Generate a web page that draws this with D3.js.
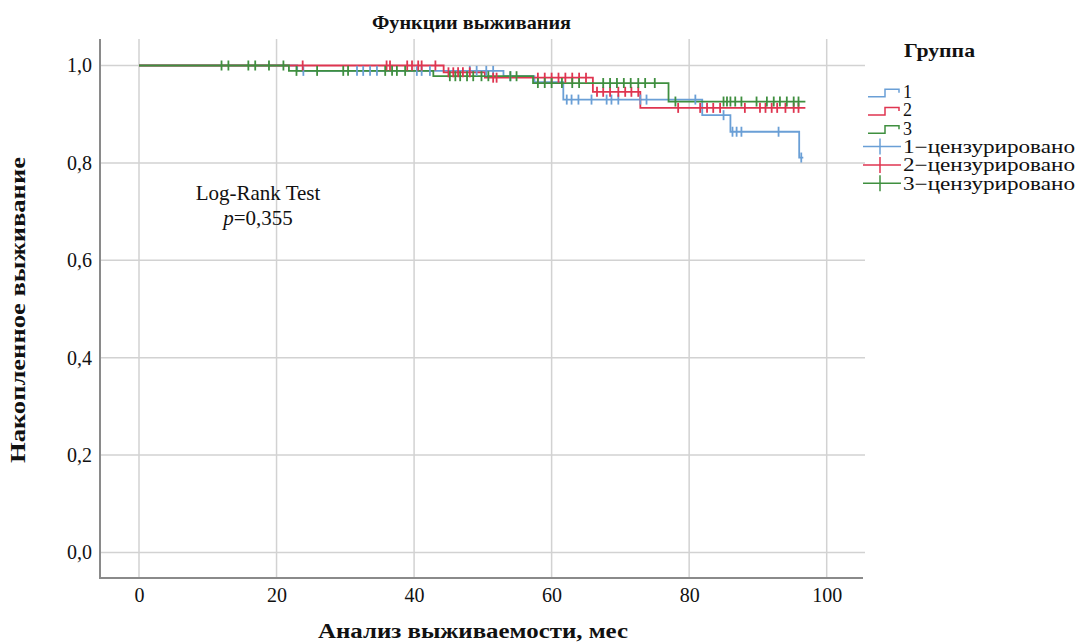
<!DOCTYPE html>
<html><head><meta charset="utf-8">
<script src="https://cdn.jsdelivr.net/npm/d3@7"></script>
<style>body{margin:0;background:#fff}svg{display:block}text{font-family:"Liberation Serif","Times New Roman",serif;fill:#111}</style>
</head><body><svg id="c" width="1078" height="644"></svg>
<script>
// ---- data ----
const groups = ["1","2","3"];
const xTicks = [0,20,40,60,80,100];
const yTicks = [0,0.2,0.4,0.6,0.8,1.0];
// step changes: [time, survival after time]
const steps1 = [[0,1.0],[23.0,0.989],[53.0,0.978],[57.5,0.966],[61.7,0.930],[81.9,0.898],[86.0,0.864],[96.0,0.811]];
const steps2 = [[0,1.0],[44.3,0.986],[50.3,0.975],[66.0,0.946],[72.9,0.913]];
const steps3 = [[0,1.0],[21.8,0.989],[42.8,0.978],[57.3,0.964],[77.0,0.926]];
const end1 = 96.6, end2 = 96.9, end3 = 96.9;
const cens1 = [23.9,31.7,32.6,33.6,34.6,40.4,41.1,42.3,48.1,49.1,50.5,51.5,54.0,62.2,62.9,63.9,65.8,68.0,68.7,69.7,72.9,73.8,80.9,85.0,86.3,86.9,87.6,93.0,96.3];
const cens2 = [23.8,36.0,36.5,39.0,39.7,40.6,41.1,43.1,45.0,45.7,46.4,47.1,48.1,51.5,52.0,58.0,59.0,60.0,61.0,62.0,63.0,64.0,65.0,66.6,67.5,68.5,69.7,70.7,71.6,72.6,78.4,81.6,82.6,83.5,84.5,88.1,90.3,91.1,92.0,92.8,94.0,95.2,95.9];
const cens3 = [12.0,13.0,15.9,16.9,18.9,21.0,22.9,25.9,29.7,30.4,35.8,36.8,37.5,38.7,45.2,46.0,46.7,47.7,48.6,49.8,50.8,54.0,54.9,58.0,59.0,60.0,61.5,63.0,64.0,67.5,68.5,69.5,70.5,71.5,72.6,73.6,75.0,78.0,85.0,85.5,86.0,86.7,87.6,89.8,91.3,92.3,93.2,94.2,95.2,95.9];
const legendLabels = ["1","2","3","1\u2212цензурировано","2\u2212цензурировано","3\u2212цензурировано"];
const colors = ["#6a9fd6","#df3550","#3f8f3f"];

const svg = d3.select("#c");
const L=100,R=865,T=39,B=578;
const x = d3.scaleLinear().domain([0,100]).range([139,826.7]);
const y = d3.scaleLinear().domain([0,1]).range([552.5,65.5]);

// grid
svg.append("g").selectAll("line").data(yTicks).join("line")
  .attr("x1",L).attr("x2",R).attr("y1",d=>y(d)).attr("y2",d=>y(d))
  .attr("stroke","#d2d2d2").attr("stroke-width",1.5);
svg.append("g").selectAll("line").data(xTicks).join("line")
  .attr("x1",d=>x(d)).attr("x2",d=>x(d)).attr("y1",T).attr("y2",B)
  .attr("stroke","#d2d2d2").attr("stroke-width",1.5);
// axes lines
svg.append("line").attr("x1",L).attr("x2",L).attr("y1",T).attr("y2",B).attr("stroke","#8a8a8a").attr("stroke-width",2);
svg.append("line").attr("x1",L-1).attr("x2",R-2).attr("y1",B).attr("y2",B).attr("stroke","#8a8a8a").attr("stroke-width",2);

// tick labels via d3 axes (domain/ticks hidden)
const fmt = d=>d3.format(".1f")(d).replace(".",",");
const ya = svg.append("g").attr("transform",`translate(${L},0)`)
  .call(d3.axisLeft(y).tickValues(yTicks).tickFormat(fmt).tickSize(0).tickPadding(8));
const xa = svg.append("g").attr("transform",`translate(0,${B})`)
  .call(d3.axisBottom(x).tickValues(xTicks).tickFormat(d3.format("d")).tickSize(0).tickPadding(10));
[ya,xa].forEach(a=>{a.select(".domain").remove();
  a.selectAll("text").attr("font-family","Liberation Serif").attr("font-size",20).attr("fill","#111");});

// curves
function stepPath(steps,end){
  let p = `M${x(steps[0][0])},${y(steps[0][1])}`;
  for(let i=1;i<steps.length;i++){
    p += `H${x(steps[i][0])}V${y(steps[i][1])}`;
  }
  p += `H${x(end)}`;
  return p;
}
function survAt(steps,t){let s=steps[0][1];for(const st of steps){if(st[0]<=t)s=st[1];}return s;}
const all = [[steps1,end1,cens1],[steps2,end2,cens2],[steps3,end3,cens3]];
all.forEach(([st,en,ce],i)=>{
  svg.append("path").attr("d",stepPath(st,en)).attr("fill","none")
    .attr("stroke",colors[i]).attr("stroke-width",1.8);
});
all.forEach(([st,en,ce],i)=>{
  const g = svg.append("g").attr("stroke",colors[i]).attr("stroke-width",1.8);
  g.selectAll("line").data(ce).join("line")
    .attr("x1",d=>x(d)).attr("x2",d=>x(d))
    .attr("y1",d=>y(survAt(st,d))-5).attr("y2",d=>y(survAt(st,d))+5);
});

// texts
svg.append("text").attr("x",471.5).attr("y",29).attr("text-anchor","middle")
  .attr("font-weight","bold").attr("font-size",19)
  .attr("textLength",199).attr("lengthAdjust","spacingAndGlyphs").text("Функции выживания");
svg.append("text").attr("transform","translate(25,310) rotate(-90)").attr("text-anchor","middle")
  .attr("font-weight","bold").attr("font-size",21)
  .attr("textLength",306).attr("lengthAdjust","spacingAndGlyphs").text("Накопленное выживание");
svg.append("text").attr("x",473).attr("y",638).attr("text-anchor","middle")
  .attr("font-weight","bold").attr("font-size",20)
  .attr("textLength",310).attr("lengthAdjust","spacingAndGlyphs").text("Анализ выживаемости, мес");
svg.append("text").attr("x",258).attr("y",200).attr("text-anchor","middle")
  .attr("font-size",21).text("Log-Rank Test");
const pt = svg.append("text").attr("x",258).attr("y",225).attr("text-anchor","middle").attr("font-size",21);
pt.append("tspan").attr("font-style","italic").text("p");
pt.append("tspan").text("=0,355");

// legend
svg.append("text").attr("x",904).attr("y",57).attr("font-weight","bold").attr("font-size",19)
  .attr("textLength",71).attr("lengthAdjust","spacingAndGlyphs").text("Группа");
legendLabels.forEach((lab,i)=>{
  const cy = 91.7 + i*18.3;
  const c = colors[i%3];
  if(i<3){
    svg.append("path").attr("d",`M868,${cy+5}H885V${cy-2.5}H899V${cy+1}`)
      .attr("fill","none").attr("stroke",c).attr("stroke-width",1.5);
  } else {
    svg.append("line").attr("x1",863).attr("x2",901).attr("y1",cy).attr("y2",cy).attr("stroke",c).attr("stroke-width",1.5);
    svg.append("line").attr("x1",880).attr("x2",880).attr("y1",cy-8).attr("y2",cy+8).attr("stroke",c).attr("stroke-width",1.5);
  }
  const t = svg.append("text").attr("x",903).attr("y",cy).attr("dy","0.35em").attr("font-size",18).text(lab);
  if(i>=3) t.attr("textLength",172).attr("lengthAdjust","spacingAndGlyphs");
});
</script></body></html>
